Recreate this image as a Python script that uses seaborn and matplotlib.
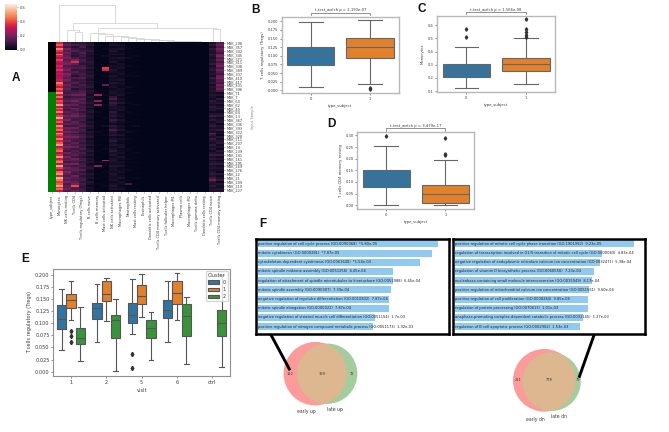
import numpy as np
import pandas as pd
import matplotlib
matplotlib.use("Agg")
import matplotlib.pyplot as plt
from matplotlib.colors import ListedColormap
from matplotlib.patches import Circle
import seaborn as sns

W, H = 669, 432
TXT = "#3a3a3a"
plt.rcParams.update({"font.family": "DejaVu Sans", "text.color": TXT, "axes.labelcolor": TXT,
                     "xtick.color": TXT, "ytick.color": TXT, "axes.linewidth": 0.8,
                     "xtick.major.width": 0.4, "ytick.major.width": 0.4,
                     "xtick.major.size": 1.5, "ytick.major.size": 1.5,
                     "xtick.major.pad": 1.5, "ytick.major.pad": 1.2, "axes.labelpad": 2})

# ---------- Panel A data ----------
sample_labels = ["MSK_298","MSK_357","MSK_342","MSK_345","MSK_371","MSK_311","MSK_338","MSK_389","MSK_337",
                 "MSK_410","MSK_417","MSK_431","MSK_396","MSK_71","MSK_7","MSK_60","MSK_62","MSK_40","MSK_64",
                 "MSK_13","MSK_367","MSK_336","MSK_393","MSK_322","MSK_328","MSK_211","MSK_207","MSK_14",
                 "MSK_239","MSK_241","MSK_251","MSK_295","MSK_269","MSK_276","MSK_22","MSK_21","MSK_209",
                 "MSK_210","MSK_227"]
type_subject = [0]*26 + [1]*52
cell_names = ["Monocytes","NK cells resting","T cells CD4","T cells regulatory (Tregs)","B cells naive",
              "B cells memory","Mast cells activated","NK cells activated","Macrophages M0","Neutrophils",
              "Mast cells resting","Eosinophils","Dendritic cells activated","T cells CD4 memory activated",
              "T cells follicular helper","Macrophages M1","Plasma cells","Macrophages M2",
              "T cells gamma delta","Dendritic cells resting","T cells CD4 naive","T cells CD4 memory resting"]
monocytes = [.34,.42,.30,.48,.36,.28,.44,.33,.26,.38,.30,.24,.34,
             .28,.36,.25,.30,.24,.28,.32,.26,.46,.38,.30,.42,.34,
             .50,.32,.44,.28,.40,.36,.52,.30,.42,.34,.46,.30,.38,
             .54,.34,.42,.28,.48,.36,.44,.30,.50,.38,.32,.46,.34,
             .42,.52,.30,.38,.44,.28,.36,.50,.32,.40,.46,.30,.54,
             .38,.28,.44,.50,.34,.56,.46,.38,.42,.52,.36,.44,.30]
nk_resting = [.12,.16,.10,.20,.14,.18,.12,.16,.20,.14,.18,.22,.12,
              .16,.20,.14,.22,.18,.14,.20,.16,.12,.18,.14,.16,.12,
              .10,.14,.08,.12,.16,.10,.18,.12,.14,.10,.16,.12,.18,
              .14,.20,.12,.16,.10,.18,.14,.20,.12,.16,.22,.14,.18,
              .12,.16,.20,.14,.10,.18,.12,.20,.14,.16,.10,.18,.12,
              .20,.14,.22,.16,.12,.18,.14,.20,.12,.16,.14,.18,.12]
t_cd4 = [.08,.12,.06,.10,.14,.08,.10,.06,.12,.20,.36,.16,.10,
         .12,.08,.14,.10,.06,.12,.08,.10,.14,.08,.12,.06,.10,
         .12,.18,.10,.14,.20,.12,.16,.10,.18,.14,.12,.16,.20,
         .12,.10,.16,.14,.10,.18,.12,.16,.10,.14,.20,.12,.10,
         .16,.12,.18,.10,.14,.12,.16,.10,.18,.14,.12,.20,.10,
         .14,.16,.12,.10,.18,.14,.12,.16,.20,.40,.14,.12,.18]
t_regs = [.08,.10,.12,.07,.10,.14,.09,.11,.08,.12,.10,.07,.11,
          .13,.09,.08,.12,.10,.14,.09,.11,.08,.13,.10,.09,.12,
          .14,.18,.10,.16,.12,.14,.09,.12,.10,.13,.08,.11,.14,
          .10,.12,.08,.11,.14,.09,.12,.10,.07,.11,.13,.09,.12,
          .08,.11,.10,.13,.08,.12,.09,.07,.11,.13,.08,.10,.12,
          .09,.14,.08,.11,.07,.10,.12,.08,.11,.09,.07,.10,.12]
b_naive = [.05,.07,.04,.06,.08,.05,.07,.04,.06,.05,.08,.06,.05,
           .07,.04,.06,.05,.08,.06,.04,.07,.05,.06,.08,.04,.06,
           .05,.03,.06,.04,.05,.07,.04,.06,.03,.05,.07,.04,.06,
           .05,.03,.06,.04,.07,.05,.03,.06,.04,.05,.07,.03,.05,
           .04,.06,.03,.05,.07,.04,.06,.03,.05,.04,.06,.03,.05,
           .07,.04,.03,.06,.04,.05,.03,.06,.04,.02,.05,.03,.04]
b_memory = [.00,.01,.00,.00,.01,.00,.02,.00,.01,.00,.00,.01,.00,
            .01,.00,.00,.01,.00,.00,.01,.00,.01,.00,.00,.01,.00,
            .01,.28,.00,.01,.22,.00,.24,.01,.00,.00,.02,.00,.01,
            .00,.00,.01,.00,.01,.00,.00,.02,.00,.01,.00,.00,.01,
            .00,.01,.00,.00,.01,.00,.00,.01,.00,.00,.02,.00,.22,
            .01,.00,.00,.01,.00,.01,.00,.00,.01,.00,.00,.01,.00]
mast_act = [.00,.01,.00,.02,.00,.01,.00,.03,.00,.01,.00,.00,.02,
            .38,.34,.01,.00,.02,.00,.01,.00,.00,.16,.01,.00,.01,
            .00,.02,.00,.01,.00,.00,.02,.00,.01,.00,.00,.01,.00,
            .02,.00,.01,.00,.03,.00,.01,.00,.00,.02,.00,.01,.00,
            .00,.01,.00,.02,.00,.01,.00,.00,.00,.28,.02,.00,.01,
            .00,.00,.02,.00,.01,.00,.00,.01,.00,.02,.00,.01,.00]
nk_act = [.03,.05,.02,.04,.06,.03,.05,.02,.04,.03,.05,.02,.04,
          .03,.06,.04,.02,.05,.03,.04,.02,.06,.03,.05,.02,.04,
          .05,.03,.08,.12,.05,.10,.07,.04,.06,.03,.09,.05,.07,
          .04,.10,.06,.03,.08,.05,.12,.06,.04,.07,.03,.05,.08,
          .04,.06,.03,.05,.08,.04,.06,.03,.05,.07,.04,.03,.06,
          .04,.05,.03,.06,.04,.03,.05,.02,.04,.06,.03,.05,.02]
m0 = [.02,.04,.03,.05,.02,.03,.04,.02,.05,.03,.02,.04,.03,
      .05,.02,.03,.04,.02,.03,.05,.02,.04,.03,.02,.04,.03,
      .03,.05,.02,.04,.03,.06,.02,.04,.03,.05,.02,.03,.04,
      .02,.05,.03,.02,.04,.03,.06,.02,.03,.05,.02,.04,.03,
      .02,.04,.05,.02,.03,.04,.02,.05,.03,.02,.04,.03,.05,
      .02,.03,.04,.02,.03,.05,.02,.04,.03,.02,.03,.04,.02]
neutro = [.01,.00,.01,.02,.00,.01,.00,.01,.03,.00,.01,.00,.02,
          .00,.01,.00,.01,.02,.00,.01,.00,.01,.00,.03,.01,.00,
          .02,.00,.01,.00,.01,.02,.00,.01,.00,.00,.02,.01,.00,
          .01,.00,.02,.00,.01,.00,.01,.03,.00,.01,.00,.02,.00,
          .01,.00,.00,.02,.01,.00,.01,.00,.02,.00,.01,.00,.01,
          .00,.02,.01,.00,.01,.00,.02,.00,.10,.01,.00,.01,.00]
mast_rest = [.00,.01,.00,.00,.01,.00,.00,.02,.00,.01,.00,.00,.01,
             .00,.00,.01,.00,.02,.00,.00,.01,.00,.00,.01,.00,.00,
             .01,.00,.00,.01,.00,.00,.02,.00,.01,.00,.00,.01,.00,
             .00,.01,.00,.00,.03,.00,.01,.00,.00,.01,.00,.00,.01,
             .00,.00,.01,.00,.00,.02,.00,.01,.00,.00,.01,.00,.00,
             .01,.00,.00,.01,.00,.02,.00,.00,.01,.00,.00,.01,.00]
low_a = [.004,.001,.005,.002,.003,.001,.002,.004,.001,.003,.001,.002,.001,
         .003,.001,.004,.001,.002,.001,.003,.001,.002,.001,.003,.001,.004,
         .001,.002,.001,.003,.001,.002,.001,.004,.001,.002,.001,.003,.001,
         .002,.001,.003,.001,.004,.001,.002,.001,.003,.001,.002,.001,.003,
         .001,.002,.004,.001,.002,.001,.003,.001,.002,.001,.004,.001,.002,
         .001,.003,.001,.002,.001,.004,.001,.002,.001,.003,.001,.002,.001]
low_b = [.001,.002,.000,.001,.001,.003,.000,.001,.001,.002,.000,.001,.001,
         .000,.002,.001,.000,.001,.001,.003,.000,.001,.001,.000,.002,.001,
         .001,.000,.001,.002,.000,.001,.001,.000,.001,.001,.002,.000,.001,
         .001,.000,.002,.001,.000,.001,.001,.003,.000,.001,.001,.000,.002,
         .001,.001,.000,.001,.002,.000,.001,.001,.000,.001,.001,.002,.000,
         .001,.001,.000,.002,.001,.000,.001,.001,.003,.000,.001,.001,.000]
t_cd4_naive = [.05,.08,.04,.09,.06,.05,.10,.06,.04,.07,.05,.09,.04,
               .06,.08,.05,.07,.04,.09,.06,.05,.08,.04,.07,.05,.06,
               .04,.07,.05,.03,.08,.06,.04,.09,.05,.07,.03,.06,.10,
               .05,.08,.04,.06,.09,.05,.07,.04,.16,.08,.05,.10,.06,
               .04,.08,.05,.07,.03,.06,.10,.05,.08,.04,.06,.09,.05,
               .07,.04,.06,.08,.05,.10,.18,.07,.05,.08,.04,.06,.05]
t_cd4_mem = [.14,.18,.12,.20,.15,.10,.17,.22,.13,.18,.11,.16,.20,
             .12,.18,.14,.10,.17,.21,.13,.16,.11,.19,.14,.18,.12,
             .03,.06,.02,.08,.04,.07,.03,.05,.09,.04,.02,.06,.08,
             .03,.05,.07,.02,.06,.04,.09,.03,.05,.02,.07,.04,.06,
             .08,.03,.05,.02,.07,.04,.10,.03,.06,.02,.05,.08,.03,
             .06,.04,.02,.07,.03,.05,.08,.02,.06,.04,.03,.07,.05]

# dendrogram merges: (left node, right node, height). Leaf = column number, merge = "m" + merge number
dendro_merges = [(19,20,1),(18,"m0",2),(17,"m1",3),(16,"m2",3),(15,"m3",4),(14,"m4",5),(13,"m5",6),(12,"m6",8),
                 (11,"m7",10),(10,"m8",12),(9,"m9",14),(8,"m10",17),(7,"m11",19),(6,"m12",23),(5,"m13",26),
                 (21,22,38),("m14","m15",41),(3,4,31),(2,"m17",36),("m18","m16",58),(1,"m19",112)]

# ---------- Panels B, C, D data ----------
tregs_0 = [.011,.035,.055,.073,.082,.092,.101,.110,.120,.127,.145,.170,.199]
tregs_1 = [.003,.006,.017,.095,.105,.118,.127,.133,.140,.152,.165,.185,.203]
mono_0 = [.125,.155,.185,.205,.225,.245,.262,.275,.290,.307,.437,.510,.575]
mono_1 = [.155,.18,.20,.22,.235,.245,.255,.27,.28,.29,.295,.30,.305,.315,.325,.33,.34,.35,.354,.50,.51,.53,.55,.57,.645]
mem_0 = [.001,.03,.06,.08,.09,.105,.115,.125,.14,.15,.19,.253,.298]
mem_1 = [.002,.005,.008,.010,.012,.02,.03,.04,.05,.06,.07,.08,.087,.193,.215,.22,.287]
p_texts = ["t-test_welch p = 2.193e-07", "t-test_welch p = 1.566e-08", "t-test_welch p = 3.479e-17"]

# ---------- Panel E data ----------
visits = ["1","2","5","6","ctrl"]
clusters = ["0","1","2"]
e_samples = {
 ("1","0"): [.045,.060,.075,.088,.095,.102,.108,.115,.125,.138,.150,.160,.170],
 ("1","1"): [.062,.074,.084,.106,.132,.136,.140,.144,.147,.150,.153,.156,.160,.165,.172,.180,.187],
 ("1","2"): [.022,.035,.048,.057,.062,.066,.070,.075,.082,.090,.105,.120,.134],
 ("2","0"): [.062,.080,.095,.108,.115,.124,.131,.134,.138,.142,.155,.170,.181],
 ("2","1"): [.104,.120,.135,.145,.150,.156,.161,.168,.178,.186,.189,.191,.193],
 ("2","2"): [.002,.030,.050,.070,.085,.098,.107,.110,.113,.117,.128,.140,.150],
 ("5","0"): [.007,.037,.078,.101,.106,.112,.116,.122,.130,.141,.165,.178,.190],
 ("5","1"): [.112,.122,.130,.139,.145,.150,.155,.162,.170,.178,.186,.195,.202],
 ("5","2"): [.025,.040,.055,.070,.078,.084,.089,.095,.100,.107,.112,.118,.122],
 ("6","0"): [.062,.080,.098,.111,.118,.124,.128,.134,.140,.148,.160,.175,.186],
 ("6","1"): [.106,.118,.130,.139,.146,.155,.162,.170,.180,.187,.192,.198,.203],
 ("6","2"): [.016,.035,.055,.074,.088,.102,.115,.122,.130,.139,.144,.149,.153],
 ("ctrl","2"): [.010,.030,.052,.073,.083,.092,.101,.110,.118,.127,.150,.175,.199],
}

# ---------- Panel F data ----------
up_terms = ["positive regulation of cell cycle process (GO:0090068)","mitotic cytokinesis (GO:0000281)",
            "cytoskeleton-dependent cytokinesis (GO:0061640)","mitotic spindle midzone assembly (GO:0051256)",
            "regulation of attachment of spindle microtubules to kinetochore (GO:0051988)",
            "mitotic spindle assembly (GO:0090307)","negative regulation of myotube differentiation (GO:0010832)",
            "mitotic spindle elongation (GO:0000022)",
            "negative regulation of striated muscle cell differentiation (GO:0051154)",
            "positive regulation of nitrogen compound metabolic process (GO:0051173)"]
up_p = [5.80e-05,7.87e-05,1.54e-04,6.45e-04,6.45e-04,7.39e-04,7.87e-04,7.87e-04,1.7e-03,1.92e-03]
up_p_text = ["*5.80e-05","*7.87e-05","*1.54e-04","6.45e-04","6.45e-04","7.39e-04","7.87e-04","7.87e-04","1.7e-03","1.92e-03"]
dn_terms = ["positive regulation of mitotic cell cycle phase transition (GO:1901992)",
            "regulation of transcription involved in G1/S transition of mitotic cell cycle (GO:0000083)",
            "negative regulation of endoplasmic reticulum calcium ion concentration (GO:0032471)",
            "regulation of vitamin D biosynthetic process (GO:0060556)",
            "nucleobase-containing small molecule interconversion (GO:0015949)",
            "positive regulation of mitochondrial calcium ion concentration (GO:0051561)",
            "positive regulation of cell proliferation (GO:0008284)","regulation of protein processing (GO:0070613)",
            "anaphase-promoting complex-dependent catabolic process (GO:0031145)",
            "regulation of B cell apoptotic process (GO:0002902)"]
dn_p = [9.23e-05,4.83e-04,5.38e-04,7.23e-04,8.17e-04,9.60e-04,9.85e-04,1.01e-03,1.27e-03,1.53e-03]
dn_p_text = ["9.23e-05","4.83e-04","5.38e-04","7.23e-04","8.17e-04","9.60e-04","9.85e-04","1.01e-03","1.27e-03","1.53e-03"]
venn_up = [122, 399, 72]
venn_dn = [211, 778, 79]

fig = plt.figure(figsize=(W/100, H/100), dpi=100)

def px_axes(x0, y0, x1, y1):
    return fig.add_axes([x0/W, 1-y1/H, (x1-x0)/W, (y1-y0)/H])

# ---------- Panel A ----------
HX0, HX1, HY0, HY1 = 48, 224, 42, 192.3
col_w = (HX1-HX0)/23
matrix = np.array([monocytes, nk_resting, t_cd4, t_regs, b_naive, b_memory, mast_act, nk_act, m0, neutro, mast_rest,
                   low_a, low_b, low_a, low_b, low_b, low_a, low_b, low_a, low_b, t_cd4_naive, t_cd4_mem]).T
row_index = [n for pair in zip(sample_labels, [s + "b" for s in sample_labels]) for n in pair]
df_cells = pd.DataFrame(matrix, columns=cell_names, index=row_index)
ax_type = px_axes(HX0, HY0, HX0+col_w, HY1)
sns.heatmap(pd.DataFrame({"type_subject": type_subject}), ax=ax_type, cmap=ListedColormap(["black", "green"]),
            cbar=False, yticklabels=False, xticklabels=True, vmin=0, vmax=1)
ax_heat = px_axes(HX0+col_w, HY0, HX1, HY1)
ax_cb = px_axes(4.7, 4.3, 16.7, 49.6)
sns.heatmap(df_cells, ax=ax_heat, cbar_ax=ax_cb, vmin=0, vmax=0.643, cmap="rocket", xticklabels=True, yticklabels=2)
for a in (ax_type, ax_heat):
    a.tick_params(axis="x", labelsize=2.6, labelrotation=90, length=1, pad=1)
ax_heat.yaxis.tick_right()
ax_heat.tick_params(axis="y", labelsize=2.5, labelrotation=0, length=1, pad=1)
ax_heat.set_ylabel("Input Sample", fontsize=2.5, color="#888888", labelpad=6)
ax_heat.yaxis.set_label_position("right")
ax_cb.tick_params(labelsize=2.6, length=1, pad=1)
ax_cb.yaxis.tick_right()
ax_cb.set_yticks([0, .2, .4, .6])

ax_d = px_axes(HX0, 3.5, HX1, HY0)
nodes = {i: (i+.5, 0) for i in range(1, 23)}
for k, (a, b, h) in enumerate(dendro_merges):
    xa, ha = nodes[a]
    xb, hb = nodes[b]
    ax_d.plot([xa, xa, xb, xb], [ha, h, h, hb], color="#d4d4d4", lw=0.6)
    nodes["m%d" % k] = ((xa+xb)/2, h)
ax_d.set_xlim(0, 23)
ax_d.set_ylim(0, 116)
ax_d.axis("off")

# ---------- Panels B, C, D ----------
def two_box(rect, s0, s1, ylabel, yticks, fmt, ylim, ptext, xlabel=True):
    ax = px_axes(*rect)
    df = pd.DataFrame({"g": ["0"]*len(s0)+["1"]*len(s1), "v": s0+s1})
    sns.boxplot(data=df, x="g", y="v", hue="g", palette="tab10", legend=False, ax=ax, linecolor="#666666",
                linewidth=0.8, flierprops=dict(marker="d", markersize=1.8, markerfacecolor="#333333",
                                               markeredgecolor="#333333"))
    ax.set_ylim(*ylim)
    ax.set_yticks(yticks)
    ax.set_yticklabels([fmt % t for t in yticks])
    ax.tick_params(labelsize=2.6)
    ax.set_xlabel("type_subject" if xlabel else "", fontsize=2.7)
    ax.set_ylabel(ylabel, fontsize=2.7)
    for s in ax.spines.values():
        s.set_color("#b8b8b8")
        s.set_linewidth(1.0)
    tr = ax.get_xaxis_transform()
    ax.plot([0, 0, 1, 1], [1.02, 1.05, 1.05, 1.02], transform=tr, clip_on=False, color="#666666", lw=0.5)
    ax.text(0.5, 1.055, ptext, transform=tr, ha="center", va="bottom", fontsize=2.7)
    return ax

two_box((281.7, 16.7, 399, 93.3), tregs_0, tregs_1, "T cells regulatory (Tregs)",
        [0, .025, .05, .075, .1, .125, .15, .175, .2], "%.3f", (-.0087, .2135), p_texts[0])
two_box((437.3, 15.7, 555, 92), mono_0, mono_1, "Monocytes", [.1, .2, .3, .4, .5, .6], "%.1f", (.0924, .6735), p_texts[1])
two_box((357.3, 132.3, 474.3, 208.7), mem_0, mem_1, "T cells CD4 memory resting",
        [0, .05, .1, .15, .2, .25, .3], "%.2f", (-.0146, .3133), p_texts[2])

# ---------- Panel E ----------
ax_e = px_axes(53.3, 268.7, 230, 375.7)
rows = [(v, c, x) for (v, c), vals in e_samples.items() for x in vals]
df_e = pd.DataFrame(rows, columns=["visit", "Cluster", "T cells regulatory (Tregs)"])
sns.boxplot(data=df_e, x="visit", y="T cells regulatory (Tregs)", hue="Cluster", order=visits, hue_order=clusters,
            palette="tab10", ax=ax_e, linecolor="#555555", linewidth=0.8,
            flierprops=dict(marker="d", markersize=2.2, markerfacecolor="#333333", markeredgecolor="#333333"))
ax_e.set_ylim(-.0083, .2122)
ax_e.set_yticks(np.arange(0, .201, .025))
ax_e.set_yticklabels(["%.3f" % t for t in np.arange(0, .201, .025)])
ax_e.tick_params(labelsize=3.6)
ax_e.xaxis.label.set_size(3.6)
ax_e.yaxis.label.set_size(3.6)
for s in ax_e.spines.values():
    s.set_color("#909090")
sns.move_legend(ax_e, "upper right", title="Cluster", fontsize=3.6, title_fontsize=3.6, borderaxespad=0.4,
                handlelength=2.2, labelspacing=0.45, borderpad=0.4)

# ---------- Panel F ----------
def enrich(rect, terms, pvals, ptexts, xlim):
    ax = px_axes(*rect)
    df = pd.DataFrame({"term": terms, "score": -np.log10(pvals)})
    sns.barplot(data=df, y="term", x="score", orient="h", color="#92c9ef", saturation=1, width=0.76, ax=ax)
    ax.set_xlim(*xlim)
    ax.set_ylim(9.8, -0.5)
    ax.set_xticks([])
    ax.set_yticks([])
    ax.set_xlabel("")
    ax.set_ylabel("")
    for s in ax.spines.values():
        s.set_color("black")
        s.set_linewidth(1.8)
    for i, (t, p) in enumerate(zip(terms, ptexts)):
        ax.text(0.015, i, t + "  " + p, va="center", ha="left", fontsize=2.6, color="#222222")

enrich((256, 239.3, 448.7, 334), up_terms, up_p, up_p_text, (-.04, 4.5))
enrich((453, 239.3, 645, 334), dn_terms, dn_p, dn_p_text, (-.037, 4.28))

# ---------- overlay: Venns, connectors, letters ----------
ov = fig.add_axes([0, 0, 1, 1], facecolor="none")
ov.set_xlim(0, W)
ov.set_ylim(H, 0)
ov.axis("off")

def venn(counts, cx, cy, sep, dy, k, names, name_xy):
    a, both, b = counts
    r1, r2 = k*np.sqrt(a+both), k*np.sqrt(b+both)
    c1, c2 = (cx, cy), (cx+sep, cy+dy)
    ov.add_patch(Circle(c1, r1, fc="#fd9a9a", ec="none"))
    ov.add_patch(Circle(c2, r2, fc="#a3cd9c", ec="none"))
    lens = Circle(c2, r2, fc="#ddb78f", ec="none")
    ov.add_patch(lens)
    lens.set_clip_path(Circle(c1, r1, transform=ov.transData))
    ty = cy
    ov.text((c1[0]-r1 + c2[0]-r2)/2, ty, str(a), ha="center", va="center", fontsize=2.6)
    ov.text((c2[0]-r2 + c1[0]+r1)/2, ty, str(both), ha="center", va="center", fontsize=2.6)
    ov.text((c1[0]+r1 + c2[0]+r2)/2, ty, str(b), ha="center", va="center", fontsize=2.6)
    for n, (x, y) in zip(names, name_xy):
        ov.text(x, y, n, ha="center", va="center", fontsize=3.3)

venn(venn_up, 315.3, 373.7, 11.9, 0, 1.389, ["early up", "late up"], [(306.3, 411), (335, 409)])
venn(venn_dn, 544.3, 380.3, 7.3, 1.5, 0.996, ["early dn", "late dn"], [(535, 419), (559, 416.7)])

ov.plot([270.7, 290], [334.3, 370.3], color="black", lw=2.1, solid_capstyle="butt")
ov.plot([594.3, 579], [334.3, 377.7], color="black", lw=2.1, solid_capstyle="butt")

for s, x, y in [("A", 16, 78), ("B", 256, 10), ("C", 422, 9), ("D", 331, 124), ("E", 25, 259), ("F", 263, 224)]:
    ov.text(x, y, s, ha="center", va="center", fontsize=8.5, fontweight="bold", family="Liberation Sans", color="#111111")

fig.savefig("out.png", dpi=100)
